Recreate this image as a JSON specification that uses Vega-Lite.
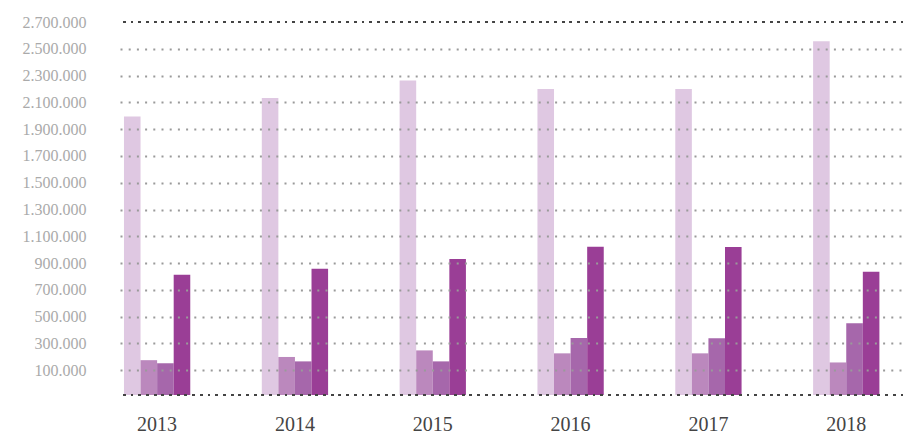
{
  "$schema": "https://vega.github.io/schema/vega-lite/v6.json",
  "width": 783,
  "height": 373,
  "autosize": {"type": "none"},
  "padding": {"left": 120, "top": 22, "right": 0, "bottom": 39},
  "config": {
    "view": {"stroke": null},
    "font": "Liberation Serif",
    "locale": {"number": {"decimal": ",", "thousands": ".", "grouping": [3], "currency": ["", " €"]}}
  },
  "data": {
    "values": [
      {"year": "2013", "series": "s1", "value": 1995000},
      {"year": "2013", "series": "s2", "value": 175000},
      {"year": "2013", "series": "s3", "value": 152000},
      {"year": "2013", "series": "s4", "value": 813000},
      {"year": "2014", "series": "s1", "value": 2133000},
      {"year": "2014", "series": "s2", "value": 199000},
      {"year": "2014", "series": "s3", "value": 166000},
      {"year": "2014", "series": "s4", "value": 858000},
      {"year": "2015", "series": "s1", "value": 2264000},
      {"year": "2015", "series": "s2", "value": 248000},
      {"year": "2015", "series": "s3", "value": 166000},
      {"year": "2015", "series": "s4", "value": 931000},
      {"year": "2016", "series": "s1", "value": 2200000},
      {"year": "2016", "series": "s2", "value": 226000},
      {"year": "2016", "series": "s3", "value": 341000},
      {"year": "2016", "series": "s4", "value": 1022000},
      {"year": "2017", "series": "s1", "value": 2200000},
      {"year": "2017", "series": "s2", "value": 226000},
      {"year": "2017", "series": "s3", "value": 338000},
      {"year": "2017", "series": "s4", "value": 1020000},
      {"year": "2018", "series": "s1", "value": 2556000},
      {"year": "2018", "series": "s2", "value": 158000},
      {"year": "2018", "series": "s3", "value": 450000},
      {"year": "2018", "series": "s4", "value": 836000}
    ]
  },
  "layer": [
    {
      "mark": {"type": "bar"},
      "encoding": {
        "x": {
          "field": "year",
          "type": "ordinal",
          "scale": {"paddingInner": 0.519, "paddingOuter": 0.1, "align": 0.144},
          "axis": {
            "title": null,
            "labelAngle": 0,
            "labelFontSize": 20,
            "labelColor": "#444444",
            "labelPadding": 19,
            "ticks": false,
            "domain": false,
            "grid": false
          }
        },
        "xOffset": {"field": "series", "type": "nominal", "scale": {"paddingInner": 0, "paddingOuter": 0}},
        "y": {
          "field": "value",
          "type": "quantitative",
          "scale": {"domain": [-85000, 2700000], "nice": false, "zero": false},
          "axis": {
            "title": null,
            "values": [100000, 300000, 500000, 700000, 900000, 1100000, 1300000, 1500000, 1700000, 1900000, 2100000, 2300000, 2500000, 2700000],
            "tickCount": 40,
            "format": ",d",
            "labelFontSize": 16,
            "labelColor": "#aaaaaa",
            "labelPadding": 34,
            "labelOverlap": false,
            "labelFlush": false,
            "labelBound": false,
            "ticks": false,
            "domain": false,
            "grid": true,
            "gridColor": {"condition": {"test": "datum.value == 2700000", "value": "transparent"}, "value": "#9a9a9a"},
            "gridDash": [2, 6.2],
            "gridWidth": 2,
            "zindex": 1
          }
        },
        "y2": {"datum": -85000},
        "color": {
          "field": "series",
          "type": "nominal",
          "scale": {"domain": ["s1", "s2", "s3", "s4"], "range": ["#dfc8e2", "#bb88bd", "#a667ab", "#9a3e96"]},
          "legend": null
        }
      }
    },
    {
      "mark": {"type": "rule", "color": "#444444", "strokeDash": [2, 5.7], "strokeWidth": 2.2},
      "encoding": {"y": {"datum": 2700000, "type": "quantitative"}}
    },
    {
      "mark": {"type": "rule", "color": "#444444", "strokeDash": [2, 5.7], "strokeWidth": 2.2},
      "encoding": {"y": {"datum": -85000, "type": "quantitative"}}
    }
  ]
}
